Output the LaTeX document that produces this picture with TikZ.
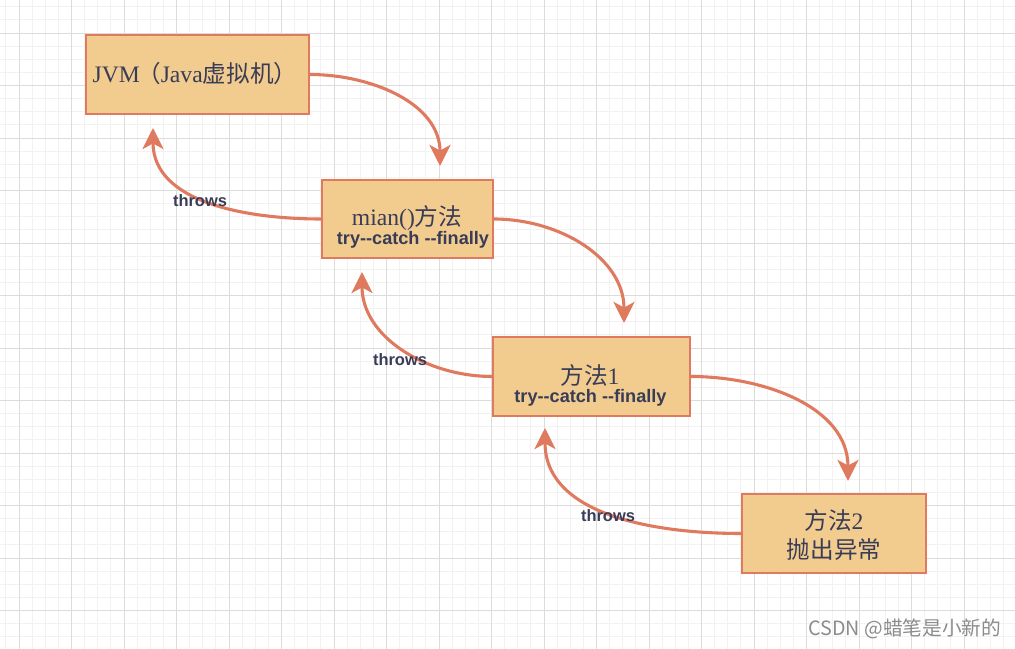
\documentclass[tikz,border=0pt]{standalone}
\usepackage{fontspec}
\setmainfont{Liberation Serif}
\newfontfamily\cjk{Noto Sans CJK SC}
\newfontfamily\lsans{Liberation Sans}
\usetikzlibrary{arrows.meta,positioning,calc}
\definecolor{boxfill}{HTML}{F2CC8F}
\definecolor{boxline}{HTML}{E07A5F}
\definecolor{ink}{HTML}{393C56}
\definecolor{gridmajor}{HTML}{DCDCDC}
\definecolor{gridminor}{HTML}{F2F2F2}
\definecolor{wmgray}{HTML}{8C8C8C}
\newcommand{\hh}{-\kern0pt-}

\begin{document}
\begin{tikzpicture}[x=0.025cm, y=-0.025cm,
    box/.style = {rectangle, draw=boxline, fill=boxfill, line width=1.1pt, inner sep=0pt, minimum height=1.975cm},
    title/.style = {text=ink, inner sep=0pt, font=\fontsize{16.8}{21}\selectfont, align=center},
    note/.style = {text=ink, inner sep=0pt, font=\fontsize{12.9}{14}\selectfont\lsans\bfseries},
    link/.style = {draw=boxline, line width=2.2pt, -{Stealth[length=15pt, width=15pt, inset=4pt]}},
    lbl/.style = {text=ink, inner sep=0pt, font=\fontsize{11.7}{13}\selectfont\lsans\bfseries}
]
\useasboundingbox (0,0) rectangle (1015,649);
\fill[white] (0,0) rectangle (1015,649);
\begin{scope}
\clip (0,0) rectangle (1015,649);
\foreach \k in {0,...,77} \draw[gridminor, line width=0.7pt] ({5.875+13.125*\k},0) -- ++(0,649);
\foreach \k in {0,...,49} \draw[gridminor, line width=0.7pt] (0,{6.75+13.125*\k}) -- ++(1015,0);
\foreach \k in {0,...,18} \draw[gridmajor, line width=0.7pt] ({19+52.5*\k},0) -- ++(0,649);
\foreach \k in {0,...,11} \draw[gridmajor, line width=0.7pt] (0,{33+52.5*\k}) -- ++(1015,0);
\end{scope}

\node[box, minimum width=5.575cm] (jvm) at (197.5,74.5) {};
\node[box, minimum width=4.275cm, minimum height=1.95cm] (main) at (407.5,219) {};
\node[box, minimum width=4.925cm] (m1) at (591.5,376.5) {};
\node[box, minimum width=4.6cm] (m2) at (834,533.5) {};

\node[title] (jvmtext) at (195,74) {JVM\kern-0.12em{\cjk （}Java{\cjk 虚拟机）}};
\node[title] (maintext) at (407,218.5) {mian(){\cjk 方法}};
\node[note] (maintry) at (413,239.5) {try\hh catch \hh finally};
\node[title] (m1text) at (590,375.5) {{\cjk 方法}1};
\node[note] (m1try) at (590.5,398) {try\hh catch \hh finally};
\node[title] (m2text) at (834,535) {{\cjk 方法}2\\{\cjk 抛出异常}};

\coordinate (t1) at (440,166);
\coordinate (t2) at (153,128);
\coordinate (t3) at (624,323);
\coordinate (t4) at (362,272);
\coordinate (t5) at (848,481);
\coordinate (t6) at (545,428);

\draw[link] (jvm.east) to[out=0, in=90] (t1);
\draw[link] (main.west) to[out=180, in=-90] (t2);
\draw[link] (main.east) to[out=0, in=90] (t3);
\draw[link] (m1.west) to[out=180, in=-90] (t4);
\draw[link] (m1.east) to[out=0, in=90] (t5);
\draw[link] (m2.west) to[out=180, in=-90] (t6);

\node[lbl] (throws1) at (200,201) {throws};
\node[lbl] (throws2) at (400,360) {throws};
\node[lbl] (throws3) at (608,516) {throws};

\node[text=wmgray, font=\fontsize{14}{16}\selectfont\cjk] (csdn) at (905,629) {CSDN @蜡笔是小新的};
\end{tikzpicture}
\end{document}
